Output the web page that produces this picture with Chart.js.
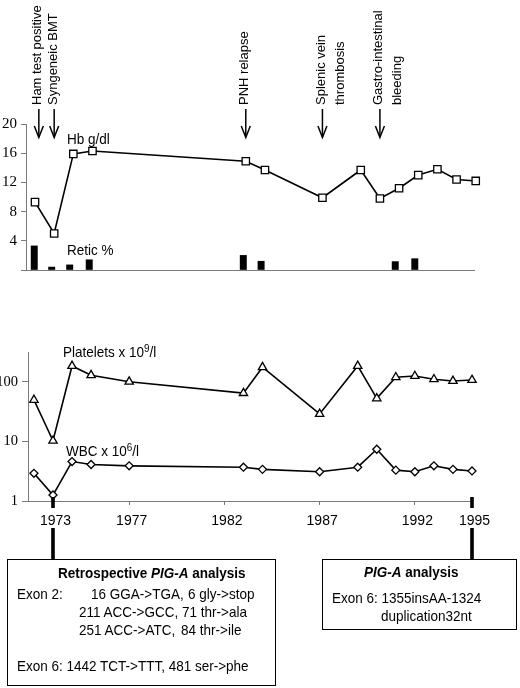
<!DOCTYPE html>
<html><head><meta charset="utf-8">
<script src="https://cdn.jsdelivr.net/npm/chart.js@4.4.1/dist/chart.umd.min.js"></script>
<style>
html,body{margin:0;padding:0;background:#fff;}
#wrap{position:relative;width:520px;height:688px;overflow:hidden;font-family:'Liberation Sans',Arial,sans-serif;color:#000;}
canvas{position:absolute;left:0;top:0;}
.t{position:absolute;white-space:nowrap;font-size:15px;line-height:18px;transform:scaleX(0.9);transform-origin:0 50%;}
.b{font-weight:bold;}
.ann{position:absolute;white-space:nowrap;font-size:13px;line-height:19px;transform-origin:0 0;transform:rotate(-90deg);}
.box{position:absolute;border:1.6px solid #000;box-sizing:border-box;}
sup{font-size:11px;line-height:0;vertical-align:5px;}
</style></head>
<body><div id="wrap">
<canvas id="topChart" width="520" height="688"></canvas>
<canvas id="botChart" width="520" height="688"></canvas>

<div class="t" style="left:66.7px;top:129.5px">Hb g/dl</div>
<div class="t" style="left:66.7px;top:240.5px">Retic %</div>
<div class="t" style="left:62.7px;top:343px">Platelets x 10<sup>9</sup>/l</div>
<div class="t" style="left:65.7px;top:441.5px">WBC x 10<sup>6</sup>/l</div>

<div class="box" style="left:7px;top:559px;width:269px;height:127px"></div>
<div class="t b" style="left:58px;top:563.7px">Retrospective <i>PIG-A</i> analysis</div>
<div class="t" style="left:16.7px;top:585px">Exon 2:</div>
<div class="t" style="left:90.7px;top:585px">16 GGA-&gt;TGA,</div>
<div class="t" style="left:188px;top:585px">6 gly-&gt;stop</div>
<div class="t" style="left:79px;top:603px">211 ACC-&gt;GCC,</div>
<div class="t" style="left:182px;top:603px">71 thr-&gt;ala</div>
<div class="t" style="left:79px;top:621px">251 ACC-&gt;ATC,</div>
<div class="t" style="left:181px;top:621px">84 thr-&gt;ile</div>
<div class="t" style="left:16.7px;top:657px">Exon 6: 1442 TCT-&gt;TTT, 481 ser-&gt;phe</div>

<div class="box" style="left:322px;top:559px;width:195px;height:71px"></div>
<div class="t b" style="left:364px;top:562.7px"><i>PIG-A</i> analysis</div>
<div class="t" style="left:331.7px;top:588.7px">Exon 6: 1355insAA-1324</div>
<div class="t" style="left:380.7px;top:607px">duplication32nt</div>
</div>
<script>
// ---- data ----
const hbYears = [1972, 1973, 1974, 1975, 1983, 1984, 1987, 1989, 1990, 1991, 1992, 1993, 1994, 1995];
const hbValues = [9.3, 5.0, 15.9, 16.3, 14.9, 13.7, 9.9, 13.7, 9.8, 11.2, 13.0, 13.8, 12.4, 12.2];
const reticYears = [1971.96, 1972.87, 1973.81, 1974.83, 1982.87, 1983.8, 1990.8, 1991.82];
const reticValues = [3.3, 0.4, 0.7, 1.4, 2.0, 1.2, 1.15, 1.55];
const countYears = [1972, 1973, 1974, 1975, 1977, 1983, 1984, 1987, 1989, 1990, 1991, 1992, 1993, 1994, 1995];
const plateletValues = [50, 10.3, 186, 130, 101, 65, 177, 29, 186, 53, 120, 126, 111, 104, 108];
const wbcValues = [2.92, 1.26, 4.6, 4.1, 3.9, 3.7, 3.4, 3.1, 3.7, 7.4, 3.3, 3.1, 3.9, 3.4, 3.2];
const eventLabels = [['Ham test positive'], ['Syngeneic BMT'], ['PNH relapse'], ['Splenic vein', 'thrombosis'], ['Gastro-intestinal', 'bleeding']];
const eventYears = [1972.2, 1973, 1983, 1987, 1990];
const xTickYears = [1973, 1977, 1982, 1987, 1992, 1995];
const analysisYears = [1973, 1995];
const countTicks = [1, 10, 100];

// ---- styles ----
const SANS = "'Liberation Sans', Arial, sans-serif";
const SERIF = "'Liberation Serif', 'Times New Roman', serif";
const AXIS = '#7a7a7a';

const eventArrows = {
  id: 'eventArrows',
  afterDraw(chart) {
    const ctx = chart.ctx, xs = chart.scales.x;
    ctx.save();
    ctx.strokeStyle = '#000'; ctx.lineWidth = 1.5;
    eventYears.forEach(yr => {
      const x = xs.getPixelForValue(yr);
      ctx.beginPath(); ctx.moveTo(x, 109); ctx.lineTo(x, 137); ctx.stroke();
      ctx.beginPath(); ctx.moveTo(x - 4.5, 126); ctx.lineTo(x, 137.5); ctx.lineTo(x + 4.5, 126); ctx.stroke();
    });
    ctx.restore();
  }
};

const connectors = {
  id: 'connectors',
  afterDraw(chart) {
    const ctx = chart.ctx, xs = chart.scales.x, b = chart.chartArea.bottom;
    ctx.save(); ctx.fillStyle = '#000';
    analysisYears.forEach(yr => {
      const x = xs.getPixelForValue(yr);
      ctx.fillRect(x - 1.8, b - 4, 3.6, 11);
      ctx.fillRect(x - 1.8, 528, 3.6, 31);
    });
    ctx.restore();
  }
};

const topChart = new Chart(document.getElementById('topChart'), {
  type: 'line',
  data: {
    datasets: [
      { type: 'line', data: hbYears.map((x, i) => ({ x, y: hbValues[i] })),
        borderColor: '#000', borderWidth: 1.6, tension: 0, clip: false,
        pointStyle: 'rect', pointRadius: 5.2, pointBackgroundColor: '#fff',
        pointBorderColor: '#000', pointBorderWidth: 1.3, order: 0 },
      { type: 'bar', data: reticYears.map((x, i) => ({ x, y: reticValues[i] })),
        backgroundColor: '#000', borderWidth: 0, barThickness: 6.3, order: 1 }
    ]
  },
  options: {
    responsive: false, animation: false, events: [],
    layout: { padding: { left: 0, top: 124, right: 46, bottom: 418 } },
    plugins: { legend: { display: false }, tooltip: { enabled: false } },
    scales: {
      x: { type: 'linear', min: 1971.53, max: 1994.91, offset: false,
        ticks: { display: false }, grid: { display: false, drawTicks: false },
        border: { display: true, color: AXIS, width: 1 },
        afterFit: s => { s.height = 0; } },
      y: { min: 0, max: 20,
        ticks: { stepSize: 4, padding: 4, color: '#000', font: { family: SERIF, size: 15 },
          callback: v => v === 0 ? '' : String(v) },
        grid: { drawOnChartArea: false, drawTicks: true, tickLength: 5, color: AXIS },
        border: { display: true, color: AXIS, width: 1 },
        afterFit: s => { s.width = 26; } }
    }
  },
  plugins: [eventArrows]
});

const botChart = new Chart(document.getElementById('botChart'), {
  type: 'line',
  data: {
    datasets: [
      { data: countYears.map((x, i) => ({ x, y: plateletValues[i] })),
        borderColor: '#000', borderWidth: 1.6, tension: 0, clip: false,
        pointStyle: 'triangle', pointRadius: 4.8, pointBackgroundColor: '#fff',
        pointBorderColor: '#000', pointBorderWidth: 1.3 },
      { data: countYears.map((x, i) => ({ x, y: wbcValues[i] })),
        borderColor: '#000', borderWidth: 1.6, tension: 0, clip: false,
        pointStyle: 'rectRot', pointRadius: 4, pointBackgroundColor: '#fff',
        pointBorderColor: '#000', pointBorderWidth: 1.3 }
    ]
  },
  options: {
    responsive: false, animation: false, events: [],
    layout: { padding: { left: 0, top: 352, right: 48, bottom: 157 } },
    plugins: { legend: { display: false }, tooltip: { enabled: false } },
    scales: {
      x: { type: 'linear', min: 1971.688, max: 1995, offset: false,
        afterBuildTicks: s => { s.ticks = xTickYears.map(v => ({ value: v })); },
        ticks: { padding: 8, labelOffset: 2.5, color: '#000', maxRotation: 0, minRotation: 0, autoSkip: false,
          font: { family: SANS, size: 14 }, callback: v => String(v) },
        grid: { drawOnChartArea: false, drawTicks: true, tickLength: 4, color: AXIS },
        border: { display: true, color: AXIS, width: 1 },
        afterFit: s => { s.height = 30; } },
      y: { type: 'logarithmic', min: 1, max: 319,
        afterBuildTicks: s => { s.ticks = countTicks.map(v => ({ value: v })); },
        ticks: { padding: 4, color: '#000', font: { family: SERIF, size: 14.5 }, callback: v => String(v) },
        grid: { drawOnChartArea: false, drawTicks: true, tickLength: 6, color: AXIS },
        border: { display: true, color: AXIS, width: 1 },
        afterFit: s => { s.width = 28; } }
    }
  },
  plugins: [connectors]
});

// rotated event annotations, placed from the chart's x scale
const wrap = document.getElementById('wrap');
eventLabels.forEach((lines, i) => {
  const x = topChart.scales.x.getPixelForValue(eventYears[i]);
  const d = document.createElement('div');
  d.className = 'ann';
  d.style.left = (x - 11.5) + 'px';
  d.style.top = '105px';
  d.innerHTML = lines.join('<br>');
  wrap.appendChild(d);
});
</script>
</body></html>
